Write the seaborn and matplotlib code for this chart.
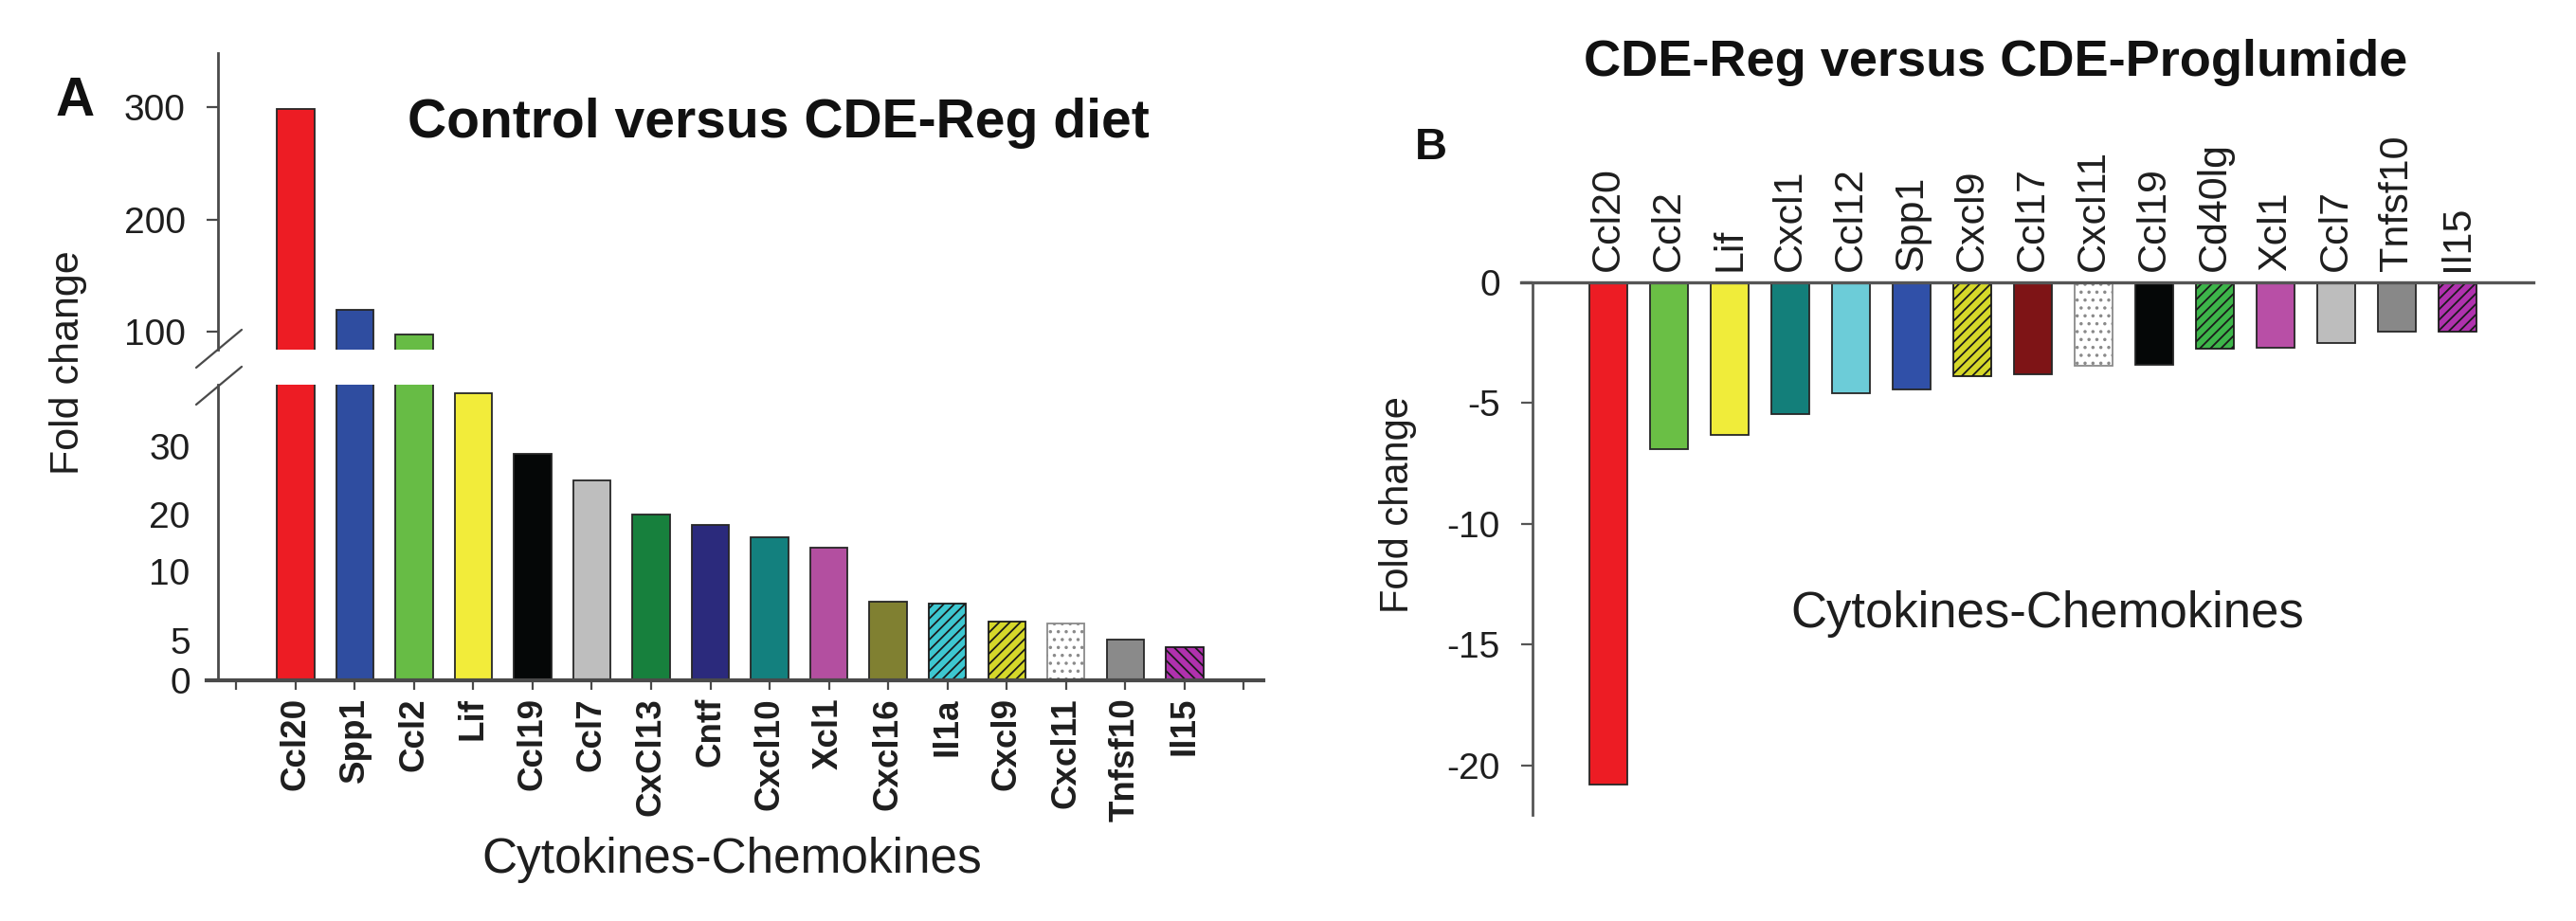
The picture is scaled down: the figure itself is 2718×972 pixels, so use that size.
import numpy as np
import pandas as pd
import matplotlib
matplotlib.use("Agg")
import matplotlib.pyplot as plt
from matplotlib.lines import Line2D
import seaborn as sns

# ---------------- data ----------------
genes_a = ["Ccl20", "Spp1", "Ccl2", "Lif", "Ccl19", "Ccl7", "CxCl13", "Cntf",
           "Cxcl10", "Xcl1", "Cxcl16", "Il1a", "Cxcl9", "Cxcl11", "Tnfsf10", "Il15"]
fold_a = [298, 120, 97.5, 37.7, 28.8, 25.0, 20.0, 18.2, 16.0, 14.2,
          7.8, 7.7, 6.4, 6.2, 5.1, 4.2]
colors_a = ["#ED1C24", "#2F4DA0", "#67BC45", "#F2EC3A", "#050707", "#BEBEBE",
            "#17803D", "#2B2A7C", "#13807E", "#B34FA0", "#808031", "#3DC7D0",
            "#D5D72A", "#FFFFFF", "#8A8A8A", "#B031AE"]
hatch_a = {"Il1a": "///", "Cxcl9": "///", "Cxcl11": "..", "Il15": "\\\\\\"}

genes_b = ["Ccl20", "Ccl2", "Lif", "Cxcl1", "Ccl12", "Spp1", "Cxcl9", "Ccl17",
           "Cxcl11", "Ccl19", "Cd40lg", "Xcl1", "Ccl7", "Tnfsf10", "Il15"]
fold_b = [-20.8, -6.9, -6.3, -5.45, -4.6, -4.45, -3.9, -3.8, -3.47, -3.43,
          -2.75, -2.7, -2.5, -2.05, -2.05]
colors_b = ["#ED1C24", "#6ABF45", "#F0EC3A", "#137F7A", "#6CCCD8", "#3050A8",
            "#D6D82A", "#7E1416", "#FFFFFF", "#050707", "#3DB54A", "#B84FA6",
            "#BDBDBD", "#888888", "#B031AE"]
hatch_b = {"Cxcl9": "///", "Cxcl11": "..", "Cd40lg": "///", "Il15": "///"}

# lower segment of panel A: irregularly spaced tick labels as printed
seg_vals = [0, 5, 10, 20, 30, 60]
seg_pos = [0, 42, 115, 175, 247, 463]
ticks_a_low = [0, 5, 10, 20, 30]
ticks_a_up = [100, 200, 300]
ticks_b = [0, -5, -10, -15, -20]

# ---------------- style ----------------
sns.set_theme(style="white")
plt.rcParams["font.family"] = ["Liberation Sans", "DejaVu Sans"]
plt.rcParams["hatch.linewidth"] = 1.3
TXT = "#1e1e1e"

W, H = 2718, 972
fig = plt.figure(figsize=(W / 100, H / 100), dpi=100)
fig.patch.set_facecolor("white")


def rect(x0, y0, x1, y1):
    return [x0 / W, 1 - y1 / H, (x1 - x0) / W, (y1 - y0) / H]


def fx(x):
    return x / W


def fy(y):
    return 1 - y / H


def draw_bars(ax, genes, vals, cols, hatches):
    df = pd.DataFrame({"gene": genes, "fold": vals})
    sns.barplot(data=df, x="gene", y="fold", hue="gene", order=genes,
                hue_order=genes, palette=dict(zip(genes, cols)), legend=False,
                width=0.63, saturation=1, errorbar=None, ax=ax,
                edgecolor="#262626", linewidth=1.3)
    for p in ax.patches:
        i = int(round(p.get_x() + p.get_width() / 2))
        g = genes[i]
        if g in hatches:
            p.set_hatch(hatches[g])
            if "." in hatches[g]:
                p.set_edgecolor("#8a8a8a")
            else:
                p.set_edgecolor("#1a1a1a")
    ax.set_xlabel("")
    ax.set_ylabel("")


# ---------------- panel A ----------------
axU = fig.add_axes(rect(218, 56, 1333, 369))
axL = fig.add_axes(rect(218, 406, 1333, 718))
for ax in (axU, axL):
    draw_bars(ax, genes_a, fold_a, colors_a, hatch_a)
    ax.set_facecolor("none")
    ax.set_xlim(-1.5, 16.33)
    for s in ("top", "right"):
        ax.spines[s].set_visible(False)
    ax.spines["left"].set_position(("data", -1.31))
    ax.spines["left"].set_linewidth(2.0)
    ax.spines["left"].set_color("#4a4a4a")

axU.set_ylim(84.4, 348)
axU.spines["bottom"].set_visible(False)
axU.set_xticks([])
axU.set_yticks(ticks_a_up)
axU.set_yticklabels([str(t) for t in ticks_a_up])
axU.tick_params(axis="y", left=True, length=8.6, width=1.6, color="#4a4a4a",
                labelsize=28, pad=16, labelcolor=TXT)


def fwd(v):
    return np.interp(v, seg_vals, seg_pos)


def inv(p):
    return np.interp(p, seg_pos, seg_vals)


axL.set_yscale("function", functions=(fwd, inv))
axL.set_ylim(0, 39)
axL.set_yticks(ticks_a_low)
axL.set_yticklabels([str(t) for t in ticks_a_low])
axL.yaxis.set_minor_locator(matplotlib.ticker.NullLocator())
axL.tick_params(axis="y", left=True, length=0, labelsize=28, pad=21,
                labelcolor=TXT)
axL.spines["bottom"].set_linewidth(3.0)
axL.spines["bottom"].set_color("#4a4a4a")
axL.set_xticks(range(-1, len(genes_a) + 1))
axL.set_xticklabels([""] + genes_a + [""], rotation=90, fontweight="bold",
                    fontsize=26.5, color=TXT)
axL.tick_params(axis="x", bottom=True, length=7, width=1.6, color="#4a4a4a",
                pad=6)

# axis-break marks
for (x0, y0, x1, y1) in [(207, 388, 255, 348), (207, 427, 255, 387)]:
    fig.add_artist(Line2D([fx(x0), fx(x1)], [fy(y0), fy(y1)],
                          transform=fig.transFigure, color="#4a4a4a", lw=1.6))

fig.text(fx(79), fy(107), "A", fontsize=41, fontweight="bold", color="#111",
         ha="center", va="center")
fig.text(fx(821), fy(130), "Control versus CDE-Reg diet", fontsize=41,
         fontweight="bold", color="#111", ha="center", va="center")
fig.text(fx(72), fy(383), "Fold change", fontsize=31, rotation=90, color=TXT,
         ha="center", va="center")
fig.text(fx(772), fy(907), "Cytokines-Chemokines", fontsize=37, color=TXT,
         ha="center", va="center")

# ---------------- panel B ----------------
axB = fig.add_axes(rect(1605, 298, 2673, 860))
draw_bars(axB, genes_b, fold_b, colors_b, hatch_b)
axB.set_facecolor("none")
axB.set_xlim(-1.44, 15.25)
axB.set_ylim(-22.05, 0)
for s in ("bottom", "right"):
    axB.spines[s].set_visible(False)
axB.spines["top"].set_linewidth(2.4)
axB.spines["top"].set_color("#555555")
axB.spines["left"].set_position(("data", -1.25))
axB.spines["left"].set_linewidth(2.0)
axB.spines["left"].set_color("#555555")
axB.xaxis.tick_top()
axB.set_xticks(range(len(genes_b)))
axB.set_xticklabels(genes_b, rotation=90, fontsize=31, color=TXT)
axB.tick_params(axis="x", top=True, bottom=False, length=0, pad=9)
axB.set_yticks(ticks_b)
axB.set_yticklabels([str(t) for t in ticks_b])
axB.tick_params(axis="y", left=True, length=8.6, width=1.6, color="#555555",
                labelsize=28, pad=16, labelcolor=TXT)

fig.text(fx(1510), fy(156), "B", fontsize=34, fontweight="bold", color="#111",
         ha="center", va="center")
fig.text(fx(2106), fy(66), "CDE-Reg versus CDE-Proglumide", fontsize=39,
         fontweight="bold", color="#111", ha="center", va="center")
fig.text(fx(1475), fy(533), "Fold change", fontsize=30, rotation=90, color=TXT,
         ha="center", va="center")
fig.text(fx(2160), fy(648), "Cytokines-Chemokines", fontsize=38, color=TXT,
         ha="center", va="center")

fig.savefig("out.png", dpi=100, facecolor="white")
